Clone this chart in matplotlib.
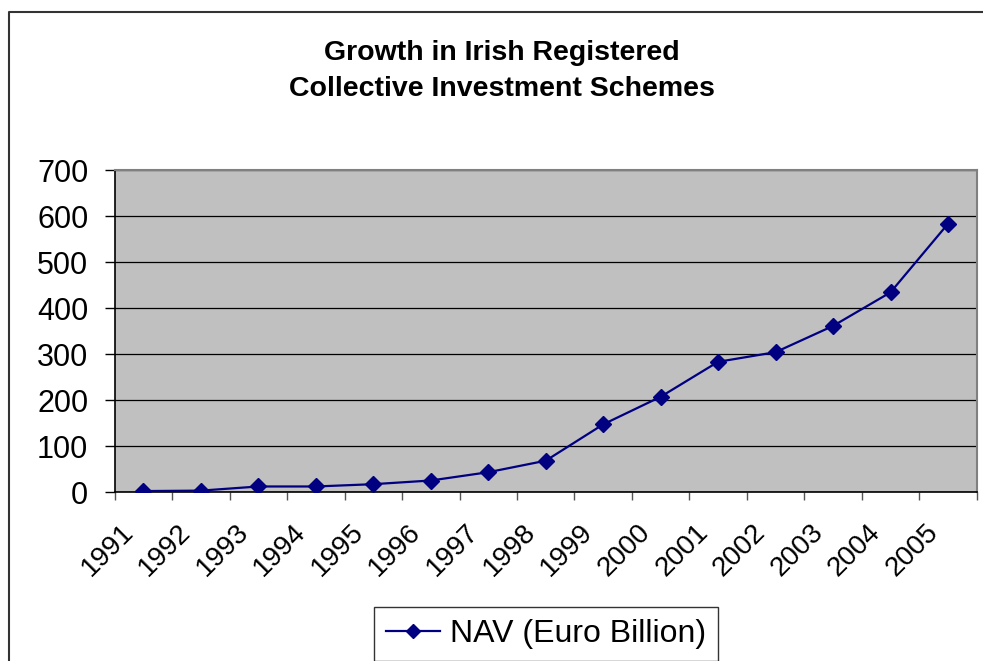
import matplotlib
matplotlib.use("Agg")
import matplotlib.pyplot as plt
from matplotlib.lines import Line2D
from matplotlib.transforms import ScaledTranslation
import numpy as np

years = ["1991", "1992", "1993", "1994", "1995", "1996", "1997", "1998",
         "1999", "2000", "2001", "2002", "2003", "2004", "2005"]
nav = [2, 3, 12, 12, 17, 25, 43, 68, 147, 207, 283, 304, 361, 434, 583]
yticks = [0, 100, 200, 300, 400, 500, 600, 700]
series_label = "NAV (Euro Billion)"
title = "Growth in Irish Registered\nCollective Investment Schemes"

plt.rcParams['font.family'] = ['Liberation Sans', 'DejaVu Sans']

W, H = 983, 661
fig = plt.figure(figsize=(W / 100, H / 100), dpi=100)
fig.patch.set_facecolor("white")

ax = fig.add_axes([114.7 / W, 1 - 492 / H, (976.7 - 114.7) / W, (492 - 170) / H])
ax.set_facecolor("#C0C0C0")

x = np.arange(len(years))
line, = ax.plot(x, nav, color="#000080", lw=1.6, marker="D", markersize=8,
                markerfacecolor="#000080", markeredgecolor="#000080",
                label=series_label, zorder=3)

ax.set_xlim(-0.5, len(years) - 0.5)
ax.set_ylim(0, 700)
ax.set_yticks(yticks)
ax.set_yticklabels([str(v) for v in yticks])
ax.yaxis.grid(True, color="black", lw=0.9)
ax.set_axisbelow(True)

# category boundaries as major ticks, labels at centers via minor ticks
ax.set_xticks(np.arange(-0.5, len(years), 1.0))
ax.set_xticklabels([])
ax.set_xticks(x, minor=True)
ax.set_xticklabels(years, minor=True, rotation=45, ha="right", va="center",
                   rotation_mode="anchor", fontsize=20)
ax.tick_params(axis="x", which="major", direction="out", length=6, width=1, color="#555555")
ax.tick_params(axis="x", which="minor", length=0, pad=26)
ax.tick_params(axis="y", direction="out", length=7, width=1, labelsize=22, pad=12)

off = ScaledTranslation(-14 / 100, 0, fig.dpi_scale_trans)
for lab in ax.get_xticklabels(minor=True):
    lab.set_transform(lab.get_transform() + off)

for s in ["left", "bottom"]:
    ax.spines[s].set_color("black")
    ax.spines[s].set_linewidth(1.2)
for s in ["top", "right"]:
    ax.spines[s].set_color("#808080")
    ax.spines[s].set_linewidth(1.5)

fig.text(502 / W, 1 - 71 / H, title, ha="center", va="center",
         fontsize=20.5, fontweight="bold", linespacing=1.5)

leg = fig.legend(handles=[line], loc="upper left",
                 bbox_to_anchor=(374 / W, 1 - 607 / H), fontsize=23,
                 frameon=True, fancybox=False, edgecolor="black",
                 handlelength=1.7, handletextpad=0.3, borderpad=0.38,
                 borderaxespad=0, markerscale=0.9)
leg.get_frame().set_linewidth(1.0)

# outer chart frame
fig.add_artist(Line2D([8.5 / W, 8.5 / W, 1.0], [0.0, 1 - 12 / H, 1 - 12 / H],
                      transform=fig.transFigure, color="#333333", lw=1.5))

fig.savefig("out.png", dpi=100)
